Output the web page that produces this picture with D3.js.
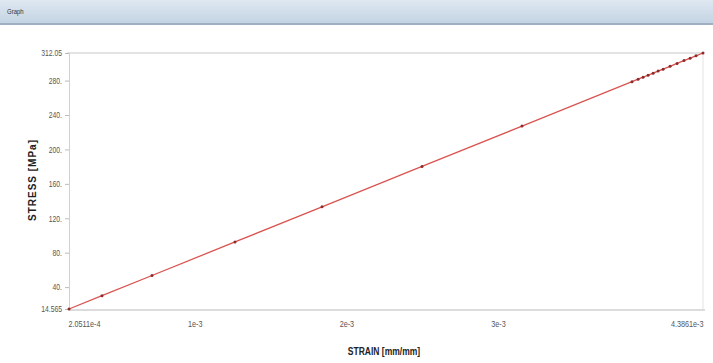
<!DOCTYPE html>
<html><head><meta charset="utf-8">
<script src="https://cdn.jsdelivr.net/npm/d3@7/dist/d3.min.js"></script>
<style>body{margin:0;background:#fff;}svg{display:block;}</style>
</head><body>
<svg id="c" width="713" height="363"></svg>
<script>
const strain = [2.0511e-4, 4.227e-4, 7.525e-4, 1.2999e-3, 1.8737e-3, 2.533e-3, 3.1926e-3,
  3.918e-3, 3.958e-3, 3.991e-3, 4.024e-3, 4.057e-3, 4.090e-3, 4.123e-3, 4.169e-3, 4.215e-3,
  4.261e-3, 4.301e-3, 4.340e-3, 4.3861e-3];
const stress = [14.565, 30.05, 53.5, 92.5, 133.3, 180.2, 227.1,
  278.7, 281.6, 283.9, 286.2, 288.6, 291.0, 293.3, 296.6, 299.9,
  303.2, 306.0, 308.8, 312.05];
const xTicks = [2.0511e-4, 1e-3, 2e-3, 3e-3, 4.3861e-3];
const xTickLabels = ["2.0511e-4", "1e-3", "2e-3", "3e-3", "4.3861e-3"];
const yTicks = [14.565, 40, 80, 120, 160, 200, 240, 280, 312.05];
const yTickLabels = ["14.565", "40.", "80.", "120.", "160.", "200.", "240.", "280.", "312.05"];

const FONT = "Liberation Sans, Arial, sans-serif";
const svg = d3.select("#c");
const W = 713, H = 363;
const L = 69, R = 703, T = 53, B = 309;

function narrow(sel, f) {
  sel.each(function(){ const n = this; const len = n.getComputedTextLength();
    d3.select(n).attr("textLength", len*f).attr("lengthAdjust","spacingAndGlyphs"); });
}

// title bar
const defs = svg.append("defs");
const g = defs.append("linearGradient").attr("id","bar").attr("x1",0).attr("y1",0).attr("x2",0).attr("y2",1);
g.append("stop").attr("offset","0%").attr("stop-color","#dfe8f1");
g.append("stop").attr("offset","100%").attr("stop-color","#c3d3e3");
svg.append("rect").attr("x",0).attr("y",0).attr("width",W).attr("height",24).attr("fill","url(#bar)");
svg.append("rect").attr("x",0).attr("y",23).attr("width",W).attr("height",2).attr("fill","#9fb0c2");
svg.append("text").attr("x",7).attr("y",14).attr("font-family",FONT)
  .attr("font-size",8).attr("fill","#333").text("Graph").call(narrow, 0.75);

const x = d3.scaleLinear().domain([xTicks[0], xTicks[xTicks.length-1]]).range([L, R]);
const y = d3.scaleLinear().domain([yTicks[0], yTicks[yTicks.length-1]]).range([B, T]);

// frame
svg.append("line").attr("x1",L-2).attr("x2",R).attr("y1",T).attr("y2",T).attr("stroke","#c8c8c8");
svg.append("line").attr("x1",R).attr("x2",R).attr("y1",T).attr("y2",B).attr("stroke","#e3e3e3");
svg.append("line").attr("x1",L).attr("x2",R+2).attr("y1",B+1).attr("y2",B+1).attr("stroke","#dcdcdc").attr("stroke-width",2);

// y axis
const ya = svg.append("g").attr("transform",`translate(${L},0)`)
  .call(d3.axisLeft(y).tickValues(yTicks).tickFormat((d,i)=>yTickLabels[i]).tickSize(4).tickPadding(3));
ya.select(".domain").attr("stroke","#d0d0d0");
ya.selectAll(".tick line").attr("stroke","#bbb");
ya.selectAll("text").attr("font-family",FONT).attr("font-size",8.5).attr("fill","#555").call(narrow, 0.8);

// x axis
const xa = svg.append("g").attr("transform",`translate(0,${B+2})`)
  .call(d3.axisBottom(x).tickValues(xTicks).tickFormat((d,i)=>xTickLabels[i]).tickSize(0).tickPadding(10));
xa.select(".domain").remove();
xa.selectAll("text").attr("font-family",FONT).attr("font-size",8.5).attr("fill","#555")
  .attr("text-anchor",(d,i)=> i===xTicks.length-1 ? "end" : "start")
  .attr("dx",(d,i)=> i===0 ? -1 : (i===xTicks.length-1 ? 0 : -2)).call(narrow, 0.85);

// line
const pts = strain.map((s,i)=>[s, stress[i]]);
svg.append("path").datum(pts).attr("fill","none").attr("stroke","#d9534f").attr("stroke-width",1.3)
  .attr("d", d3.line().x(d=>x(d[0])).y(d=>y(d[1])));
svg.selectAll("circle.p").data(pts).enter().append("circle").attr("class","p")
  .attr("cx",d=>x(d[0])).attr("cy",d=>y(d[1])).attr("r",1.5).attr("fill","#8b2b2b");

// axis titles
svg.append("text").attr("x",384).attr("y",355).attr("text-anchor","middle")
  .attr("font-family",FONT).attr("font-weight","bold")
  .attr("font-size",10).attr("fill","#222").text("STRAIN [mm/mm]").call(narrow, 0.85);
svg.append("text").attr("transform","translate(36,180) rotate(-90)").attr("text-anchor","middle")
  .attr("font-family",FONT).attr("font-weight","bold").attr("letter-spacing",1)
  .attr("font-size",10).attr("fill","#222").text("STRESS [MPa]");
</script>
</body></html>
